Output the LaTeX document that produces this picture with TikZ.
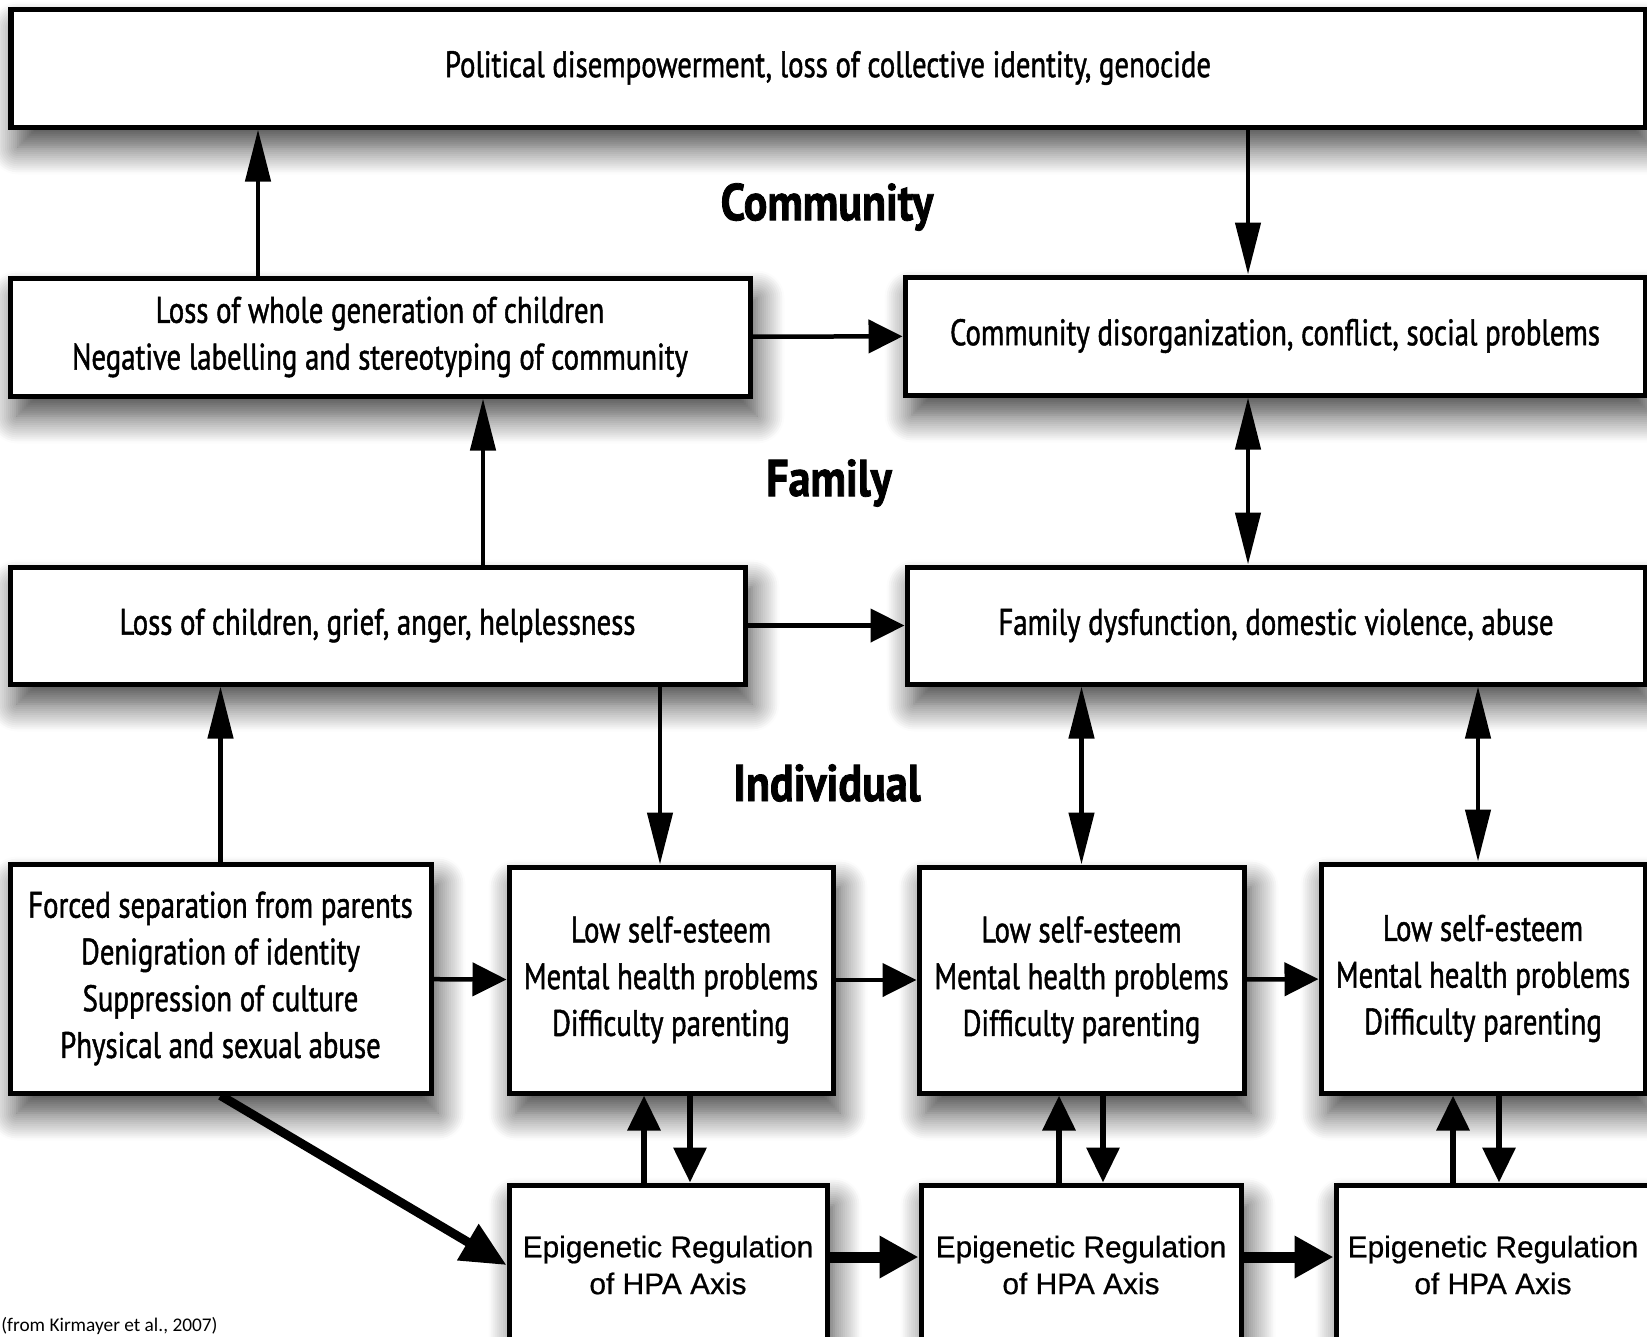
\documentclass[tikz,border=0pt]{standalone}
\usepackage{fontspec}
\usepackage{tikz}
\usetikzlibrary{arrows.meta,shadows.blur}

\newfontfamily\cajafont[FakeStretch=0.78,FakeBold=1.2]{PT Sans}
\newfontfamily\nivelfont[FakeStretch=0.85,FakeBold=1.5]{PT Sans}
\newfontfamily\epifont[FakeBold=0.6]{Liberation Sans}
\newfontfamily\notafont{Carlito}

\tikzset{
	caja/.style={draw=black, line width=0.1cm, fill=white, align=center, inner sep=0pt,
		blur shadow={shadow xshift=0.14cm, shadow yshift=-0.4cm, shadow blur radius=0.55cm, shadow blur steps=14, shadow opacity=75},
		font=\cajafont\fontsize{21}{26.6}\selectfont},
	epicaja/.style={caja, font=\epifont\fontsize{17}{21}\selectfont},
	nivel/.style={font=\nivelfont\bfseries\fontsize{29.5}{32}\selectfont},
	flecha/.style={line width=0.09cm, -{Triangle[length=0.68cm,width=0.66cm]}},
	vflecha/.style={line width=0.09cm, -{Triangle[length=1.04cm,width=0.5cm]}},
	dflecha/.style={line width=0.09cm, {Triangle[length=1.04cm,width=0.5cm]}-{Triangle[length=1.04cm,width=0.5cm]}},
	cflecha/.style={line width=0.13cm, -{Triangle[length=0.7cm,width=0.64cm]}},
	gflecha/.style={line width=0.22cm, -{Triangle[length=0.78cm,width=0.8cm]}},
	diagflecha/.style={line width=0.18cm, -{Triangle[length=0.9cm,width=0.8cm]}},
}

\begin{document}
\begin{tikzpicture}

			\useasboundingbox (0,0) rectangle (32.94,-26.72);

			% Nivel comunidad
			\node[caja, minimum width=32.68cm, minimum height=2.36cm] (politica) at (16.56,-1.36) {Political disempowerment, loss of collective identity, genocide};
			\node[nivel] (comunidad) at (16.54,-4.14) {Community};
			\node[caja, minimum width=14.8cm, minimum height=2.36cm] (generacion) at (7.6,-6.74) {Loss of whole generation of children\\Negative labelling and stereotyping of community};
			\node[caja, minimum width=14.8cm, minimum height=2.36cm] (desorden) at (25.5,-6.72) {Community disorganization, conflict, social problems};

			% Nivel familia
			\node[nivel] (familia) at (16.58,-9.66) {Family};
			\node[caja, minimum width=14.7cm, minimum height=2.34cm] (perdida) at (7.55,-12.51) {Loss of children, grief, anger, helplessness};
			\node[caja, minimum width=14.76cm, minimum height=2.34cm] (disfuncion) at (25.52,-12.51) {Family dysfunction, domestic violence, abuse};

			% Nivel individual
			\node[nivel] (individual) at (16.54,-15.66) {Individual};
			\node[caja, minimum width=8.42cm, minimum height=4.58cm] (forzada) at (4.41,-19.57) {Forced separation from parents\\Denigration of identity\\Suppression of culture\\Physical and sexual abuse};
			\node[caja, minimum width=6.48cm, minimum height=4.52cm] (autoestimaA) at (13.42,-19.6) {Low self-esteem\\Mental health problems\\Difficulty parenting};
			\node[caja, minimum width=6.5cm, minimum height=4.52cm] (autoestimaB) at (21.63,-19.6) {Low self-esteem\\Mental health problems\\Difficulty parenting};
			\node[caja, minimum width=6.48cm, minimum height=4.58cm] (autoestimaC) at (29.66,-19.57) {Low self-esteem\\Mental health problems\\Difficulty parenting};

			% Regulacion epigenetica
			\node[epicaja, minimum width=6.36cm, minimum height=3.2cm] (epiA) at (13.36,-25.3) {Epigenetic Regulation\\of HPA Axis};
			\node[epicaja, minimum width=6.4cm, minimum height=3.2cm] (epiB) at (21.62,-25.3) {Epigenetic Regulation\\of HPA Axis};
			\node[epicaja, minimum width=6.28cm, minimum height=3.2cm] (epiC) at (29.86,-25.3) {Epigenetic Regulation\\of HPA Axis};

			\node[anchor=south west, inner sep=0pt, font=\notafont\fontsize{11}{12}\selectfont] (fuente) at (0.02,-26.7) {(from Kirmayer et al., 2007)};

			% Flechas entre niveles
			\coordinate (g1) at ([xshift=-2.44cm]generacion.north);
			\draw[vflecha] (g1) -- (g1 |- politica.south);
			\coordinate (d1) at ([xshift=-0.54cm]desorden.north);
			\draw[vflecha] (d1 |- politica.south) -- (d1);
			\draw[flecha] (generacion) -- (desorden);

			\coordinate (p1) at ([xshift=2.11cm]perdida.north);
			\draw[vflecha] (p1) -- (p1 |- generacion.south);
			\coordinate (d2) at ([xshift=-0.56cm]disfuncion.north);
			\draw[dflecha] (d2 |- desorden.south) -- (d2);
			\draw[flecha] (perdida) -- (disfuncion);

			\draw[vflecha] (forzada.north) -- (forzada.north |- perdida.south);
			\coordinate (a1) at ([xshift=-0.22cm]autoestimaA.north);
			\draw[vflecha] (a1 |- perdida.south) -- (a1);
			\draw[dflecha] (autoestimaB.north |- disfuncion.south) -- (autoestimaB.north);
			\coordinate (a3) at ([xshift=-0.1cm]autoestimaC.north);
			\draw[dflecha] (a3 |- disfuncion.south) -- (a3);

			% Flechas individuales
			\draw[flecha] (forzada) -- (autoestimaA);
			\draw[flecha] (autoestimaA) -- (autoestimaB);
			\draw[flecha] (autoestimaB) -- (autoestimaC);

			\coordinate (e1) at ([xshift=-0.48cm]epiA.north);
			\draw[cflecha] (e1) -- (e1 |- autoestimaA.south);
			\coordinate (e2) at ([xshift=0.38cm]autoestimaA.south);
			\draw[cflecha] (e2) -- (e2 |- epiA.north);
			\coordinate (e3) at ([xshift=-0.44cm]epiB.north);
			\draw[cflecha] (e3) -- (e3 |- autoestimaB.south);
			\coordinate (e4) at ([xshift=0.43cm]autoestimaB.south);
			\draw[cflecha] (e4) -- (e4 |- epiB.north);
			\coordinate (e5) at ([xshift=-0.8cm]epiC.north);
			\draw[cflecha] (e5) -- (e5 |- autoestimaC.south);
			\coordinate (e6) at ([xshift=0.32cm]autoestimaC.south);
			\draw[cflecha] (e6) -- (e6 |- epiC.north);

			\draw[diagflecha] (forzada.south) -- (epiA.west);
			\draw[gflecha] ([yshift=0.16cm]epiA.east) -- ([yshift=0.16cm]epiB.west);
			\draw[gflecha] ([yshift=0.16cm]epiB.east) -- ([yshift=0.16cm]epiC.west);

		\end{tikzpicture}
\end{document}
